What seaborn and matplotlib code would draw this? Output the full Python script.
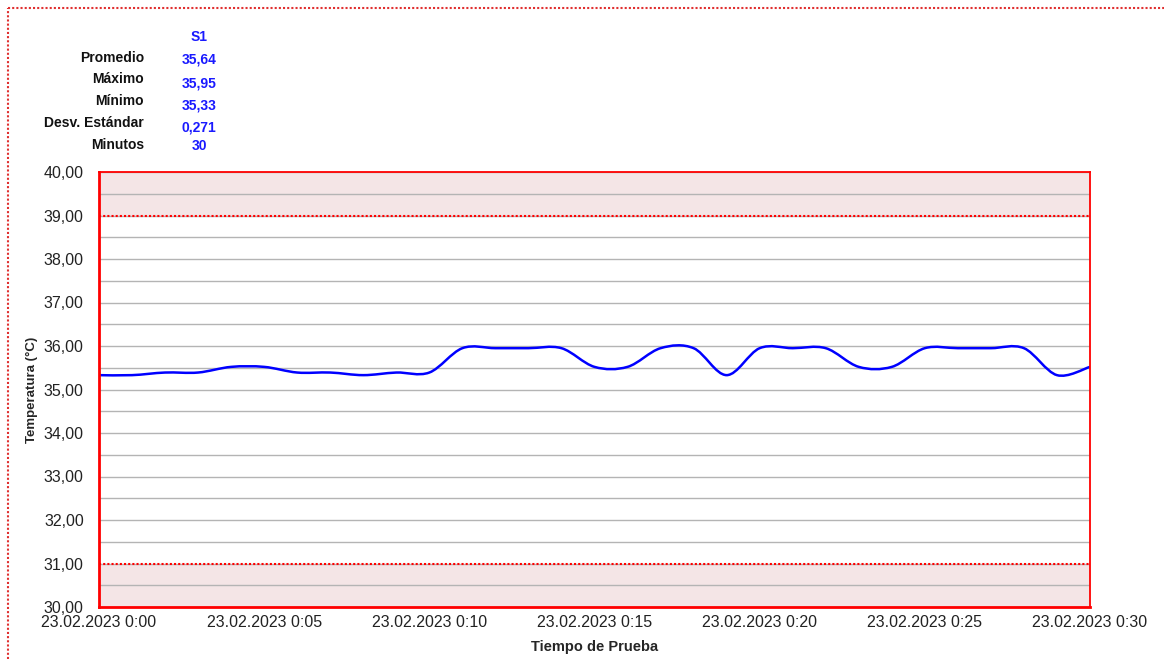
#!/usr/bin/env python3

import numpy as np
import matplotlib
matplotlib.use("Agg")
import matplotlib.pyplot as plt
import seaborn as sns
from matplotlib.path import Path
from matplotlib.patches import PathPatch
from matplotlib.lines import Line2D

# *** data ***
minutes = list(range(31))
temps = [35.33, 35.33, 35.39, 35.39, 35.52, 35.52, 35.39, 35.39, 35.33, 35.39,
         35.39, 35.95, 35.95, 35.95, 35.95, 35.52, 35.52, 35.95, 35.95, 35.33,
         35.95, 35.95, 35.95, 35.52, 35.52, 35.95, 35.95, 35.95, 35.95, 35.33,
         35.52]
x_ticks = [0, 5, 10, 15, 20, 25, 30]
x_labels = ["23.02.2023 0:00", "23.02.2023 0:05", "23.02.2023 0:10",
            "23.02.2023 0:15", "23.02.2023 0:20", "23.02.2023 0:25",
            "23.02.2023 0:30"]
y_ticks = [30, 31, 32, 33, 34, 35, 36, 37, 38, 39, 40]
limit_low = 31
limit_high = 39
stat_names = ["Promedio", "Máximo", "Mínimo", "Desv. Estándar", "Minutos"]
stat_values = ["35,64", "35,95", "35,33", "0,271", "30"]
series_name = "S1"

sns.set_style("white")
plt.rcParams['font.family'] = ['Liberation Sans', 'DejaVu Sans']

W, H = 1164, 659
fig = plt.figure(figsize=(W / 100, H / 100), dpi=100)
ax = fig.add_axes([99 / W, 1 - 607 / H, (1090 - 99) / W, (607 - 172) / H])

# scales from the data via seaborn (invisible), smooth curve drawn on top
sns.lineplot(x=minutes, y=temps, ax=ax, linewidth=0)


def smooth_path(xs, ys):
    # Catmull-Rom style cubic bezier through the points (like Excel's smoothed line)
    pts = np.column_stack([xs, ys]).astype(float)
    n = len(pts)
    verts = [pts[0]]
    codes = [Path.MOVETO]
    for i in range(n - 1):
        p0 = pts[i - 1] if i > 0 else pts[i]
        p1 = pts[i]
        p2 = pts[i + 1]
        p3 = pts[i + 2] if i + 2 < n else pts[i + 1]
        verts += [p1 + (p2 - p0) / 6, p2 - (p3 - p1) / 6, p2]
        codes += [Path.CURVE4] * 3
    return Path(verts, codes)


ax.add_patch(PathPatch(smooth_path(minutes, temps), facecolor="none",
                       edgecolor="#0000ff", lw=1.8, zorder=5, capstyle="round"))

# alarm bands
band = "#f4e5e6"
ax.axhspan(limit_high, 40, color=band, zorder=0, lw=0)
ax.axhspan(30, limit_low, color=band, zorder=0, lw=0)
ax.axhline(limit_high, color="red", lw=1.5, ls=(0, (1, 1)), zorder=3)
ax.axhline(limit_low, color="red", lw=1.5, ls=(0, (1, 1)), zorder=3)

ax.set_xlim(0, 30)
ax.set_ylim(30, 40)
ax.set_yticks(y_ticks)
ax.set_yticklabels([f"{v:.2f}".replace(".", ",") for v in y_ticks])
ax.set_yticks(np.arange(30, 40.01, 0.5), minor=True)
ax.set_xticks(x_ticks)
ax.set_xticklabels(x_labels)

ax.grid(which="both", axis="y", color="#b4b4b4", lw=1, zorder=1)
ax.grid(False, axis="x")
ax.set_axisbelow(True)

ax.tick_params(axis="y", which="major", direction="out", length=5, width=1,
               color="red", labelsize=11.5, labelcolor="#222222", pad=6)
ax.tick_params(axis="x", which="major", direction="in", length=4, width=1,
               color="red", labelsize=11.5, labelcolor="#222222", pad=6)
ax.tick_params(which="minor", length=0)

for side, spine in ax.spines.items():
    spine.set_visible(True)
    spine.set_color("red")
    spine.set_linewidth(2 if side in ("left", "bottom") else 1.3)
    spine.set_zorder(6)

ax.set_xlabel("Tiempo de Prueba", fontsize=10.5, fontweight="bold", labelpad=7)
ax.set_ylabel("Temperatura (°C)", fontsize=9.5, fontweight="bold", labelpad=4)

# statistics block
fig.text(199 / W, 1 - 37 / H, series_name, color="#1a1aff", fontsize=10,
         fontweight="bold", ha="center", va="center")
label_y = [58, 79, 101, 123, 145]
value_y = [60, 83, 105, 127, 146]
for name, ly in zip(stat_names, label_y):
    fig.text(144 / W, 1 - ly / H, name, color="#111111", fontsize=10,
             fontweight="bold", ha="right", va="center")
for val, vy in zip(stat_values, value_y):
    fig.text(199 / W, 1 - vy / H, val, color="#1a1aff", fontsize=10,
             fontweight="bold", ha="center", va="center")

# dotted outer frame
fig.add_artist(Line2D([8 / W, 8 / W], [0, 1 - 8 / H], transform=fig.transFigure,
                      color="#e03030", lw=1.5, ls=(0, (1, 1))))
fig.add_artist(Line2D([8 / W, 1], [1 - 8 / H, 1 - 8 / H], transform=fig.transFigure,
                      color="#e03030", lw=1.5, ls=(0, (1, 1))))

fig.savefig("out.png", dpi=100)
